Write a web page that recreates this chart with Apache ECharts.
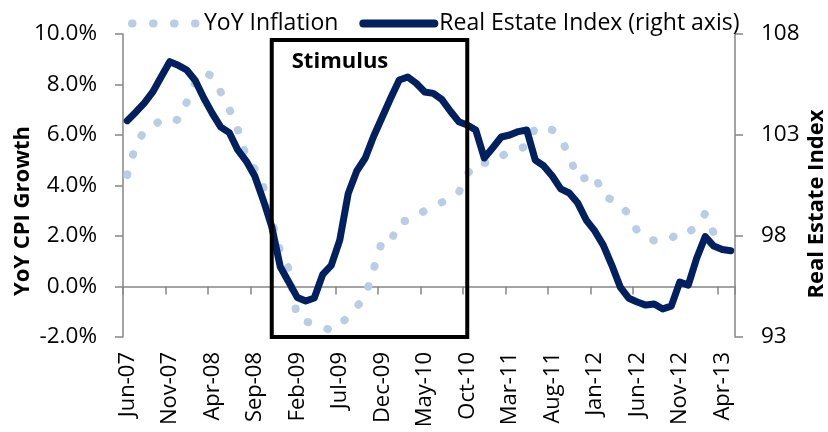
<!DOCTYPE html>
<html>
<head>
<meta charset="utf-8">
<script src="https://cdn.jsdelivr.net/npm/echarts@6/dist/echarts.min.js"></script>
<style>
html,body{margin:0;padding:0;background:#fff;}
#chart{width:828px;height:432px;}
</style>
</head>
<body>
<div id="chart"></div>
<script>
const months = ['Jun-07','Jul-07','Aug-07','Sep-07','Oct-07','Nov-07','Dec-07',
  'Jan-08','Feb-08','Mar-08','Apr-08','May-08','Jun-08','Jul-08','Aug-08','Sep-08','Oct-08','Nov-08','Dec-08',
  'Jan-09','Feb-09','Mar-09','Apr-09','May-09','Jun-09','Jul-09','Aug-09','Sep-09','Oct-09','Nov-09','Dec-09',
  'Jan-10','Feb-10','Mar-10','Apr-10','May-10','Jun-10','Jul-10','Aug-10','Sep-10','Oct-10','Nov-10','Dec-10',
  'Jan-11','Feb-11','Mar-11','Apr-11','May-11','Jun-11','Jul-11','Aug-11','Sep-11','Oct-11','Nov-11','Dec-11',
  'Jan-12','Feb-12','Mar-12','Apr-12','May-12','Jun-12','Jul-12','Aug-12','Sep-12','Oct-12','Nov-12','Dec-12',
  'Jan-13','Feb-13','Mar-13','Apr-13','May-13'];

const yoyInflation = [4.42,5.6,6.15,6.35,6.6,6.7,6.58,7.3,8.1,8.5,8.32,7.7,7.04,6.23,5.14,4.65,3.95,2.6,1.4,0.7,
  -1.25,-1.4,-1.45,-1.6,-1.75,-1.5,-1.2,-0.8,-0.4,0.7,1.82,1.78,2.58,2.6,2.8,3.0,3.15,3.33,3.52,3.72,
  4.45,4.9,4.9,4.92,5.15,5.38,5.45,5.55,6.3,6.3,6.2,5.85,5.2,4.25,4.3,4.45,3.55,3.45,3.25,2.85,
  2.2,1.92,1.82,1.78,1.9,2.18,2.13,2.4,2.9,2.12,2.13,2.15];

const realEstateIndex = [103.71,104.13,104.58,105.13,105.88,106.63,106.45,106.22,105.70,104.83,
  104.07,103.39,103.12,102.26,101.71,100.97,99.78,98.46,96.48,95.72,
  94.96,94.78,94.93,96.1,96.55,97.80,100.11,101.22,101.86,102.95,
  103.89,104.83,105.72,105.87,105.56,105.13,105.06,104.76,104.19,103.66,
  103.50,103.25,101.86,102.37,102.90,103.0,103.17,103.25,101.76,101.47,
  100.97,100.33,100.13,99.63,98.79,98.25,97.55,96.56,95.47,94.92,
  94.73,94.58,94.63,94.39,94.53,95.72,95.57,96.91,97.97,97.50,
  97.33,97.27];

const leftTicks = {min: -2, max: 10, interval: 2};
const rightTicks = {min: 93, max: 108, interval: 5};
const stimulusRange = ['Nov-08', 'Oct-10'];

const FONT = '"Open Sans", "Noto Sans", sans-serif';
const AXIS_GRAY = '#868686';
const NAVY = '#002060';
const LIGHT = '#b9cde5';

const chart = echarts.init(document.getElementById('chart'), null, {renderer: 'canvas'});
chart.setOption({
  animation: false,
  textStyle: {fontFamily: FONT},
  grid: {left: 123, right: 93, top: 34, bottom: 95, containLabel: false},
  legend: {
    left: 124, top: 12, padding: 0,
    itemWidth: 71, itemHeight: 14, itemGap: 21,
    textStyle: {fontSize: 23, color: '#000', fontFamily: FONT},
    lineStyle: {width: 8, dashOffset: -4},
    itemStyle: {opacity: 0},
    data: ['YoY Inflation', 'Real Estate Index (right axis)']
  },
  xAxis: [
    {
      type: 'category', data: months, position: 'bottom', boundaryGap: true,
      axisLine: {show: false, onZero: false},
      axisTick: {show: false},
      axisLabel: {interval: 4, rotate: 90, margin: 15, fontSize: 22, color: '#000', fontFamily: FONT}
    },
    {
      type: 'category', data: months, position: 'bottom', boundaryGap: true,
      axisLine: {show: true, onZero: true, onZeroAxisIndex: 0, lineStyle: {color: AXIS_GRAY, width: 1.5}},
      axisTick: {show: true, interval: 4, length: 8, lineStyle: {color: AXIS_GRAY, width: 1.5}},
      axisLabel: {show: false}
    }
  ],
  yAxis: [
    {
      type: 'value', min: leftTicks.min, max: leftTicks.max, interval: leftTicks.interval, position: 'left',
      splitLine: {show: false},
      axisLine: {show: true, lineStyle: {color: AXIS_GRAY, width: 1.5}},
      axisTick: {show: true, length: 8, lineStyle: {color: AXIS_GRAY, width: 1.5}},
      axisLabel: {margin: 26, fontSize: 22.5, color: '#000', fontFamily: FONT, formatter: v => v.toFixed(1) + '%'}
    },
    {
      type: 'value', min: rightTicks.min, max: rightTicks.max, interval: rightTicks.interval, position: 'right',
      splitLine: {show: false},
      axisLine: {show: true, lineStyle: {color: AXIS_GRAY, width: 1.5}},
      axisTick: {show: true, length: 8, lineStyle: {color: AXIS_GRAY, width: 1.5}},
      axisLabel: {margin: 26, fontSize: 22.5, color: '#000', fontFamily: FONT}
    }
  ],
  graphic: [
    {type: 'text', x: 23, y: 211, rotation: Math.PI / 2,
     style: {text: 'YoY CPI Growth', font: 'bold 22px ' + FONT, fill: '#000', align: 'center', verticalAlign: 'middle'}},
    {type: 'text', x: 817, y: 204, rotation: Math.PI / 2,
     style: {text: 'Real Estate Index', font: 'bold 22px ' + FONT, fill: '#000', align: 'center', verticalAlign: 'middle'}}
  ],
  series: [
    {
      name: 'YoY Inflation', type: 'line', xAxisIndex: 0, yAxisIndex: 0,
      data: yoyInflation, symbol: 'none', smooth: false, z: 2,
      lineStyle: {color: LIGHT, width: 8, type: [0.5, 20.5], cap: 'round'},
      itemStyle: {color: LIGHT}
    },
    {
      name: 'Real Estate Index (right axis)', type: 'line', xAxisIndex: 0, yAxisIndex: 1,
      data: realEstateIndex, symbol: 'none', smooth: false, z: 3, clip: false,
      lineStyle: {color: NAVY, width: 7, join: 'round', cap: 'round'},
      itemStyle: {color: NAVY},
      markArea: {
        silent: true, z: 10,
        itemStyle: {color: 'rgba(0,0,0,0)', borderColor: '#000', borderWidth: 4},
        label: {show: true, position: [22, 13], fontSize: 22, fontWeight: 'bold', color: '#000', fontFamily: FONT},
        data: [[
          {name: 'Stimulus', xAxis: stimulusRange[0], yAxis: 107.7},
          {xAxis: stimulusRange[1], yAxis: 92.85}
        ]]
      }
    }
  ]
});
</script>
</body>
</html>
